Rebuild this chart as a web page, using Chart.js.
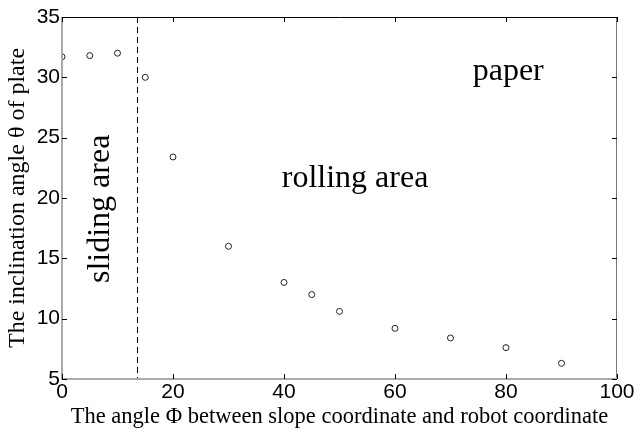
<!DOCTYPE html>
<html>
<head>
<meta charset="utf-8">
<script src="https://cdn.jsdelivr.net/npm/chart.js@4/dist/chart.umd.min.js"></script>
<style>
  html, body { margin: 0; padding: 0; background: #fff; }
  #wrap { width: 636px; height: 432px; }
</style>
</head>
<body>
<div id="wrap"><canvas id="c" width="636" height="432"></canvas></div>
<script>
// ---- data ----
const phiValues   = [0, 5, 10, 15, 20, 30, 40, 45, 50, 60, 70, 80, 90];
const thetaValues = [31.7, 31.8, 32.0, 30.0, 23.4, 16.0, 13.0, 12.0, 10.6, 9.2, 8.4, 7.6, 6.3];
const boundaryPhi = 13.5;
const xTickValues = [0, 20, 40, 60, 80, 100];
const yTickValues = [5, 10, 15, 20, 25, 30, 35];
const xTitle = 'The angle \u03A6 between slope coordinate and robot coordinate';
const yTitle = 'The inclination angle \u03B8 of plate';

const points = phiValues.map((x, i) => ({ x: x, y: thetaValues[i] }));

const framePlugin = {
  id: 'frame',
  afterDatasetsDraw(chart) {
    const { ctx, chartArea: a, scales: { x, y } } = chart;
    ctx.save();
    // dashed boundary
    ctx.strokeStyle = '#000';
    ctx.lineWidth = 1;
    ctx.setLineDash([6, 4]);
    const bx = Math.round(x.getPixelForValue(boundaryPhi)) + 0.5;
    ctx.beginPath();
    ctx.moveTo(bx, a.top);
    ctx.lineTo(bx, a.bottom);
    ctx.stroke();
    ctx.setLineDash([]);
    // box
    ctx.lineWidth = 1;
    ctx.strokeStyle = '#000';
    ctx.beginPath();
    ctx.moveTo(a.left, a.top + 0.5); ctx.lineTo(a.right, a.top + 0.5);
    ctx.stroke();
    ctx.strokeStyle = '#777';
    ctx.beginPath();
    ctx.moveTo(a.right - 0.5, a.top); ctx.lineTo(a.right - 0.5, a.bottom);
    ctx.stroke();
    ctx.strokeStyle = '#aaa';
    ctx.lineWidth = 2;
    ctx.beginPath();
    ctx.moveTo(a.left, a.top); ctx.lineTo(a.left, a.bottom);
    ctx.lineTo(a.right, a.bottom);
    ctx.stroke();
    // inward ticks
    ctx.lineWidth = 1;
    ctx.strokeStyle = '#000';
    const tl = 5;
    xTickValues.forEach(v => {
      const px = Math.round(x.getPixelForValue(v)) + 0.5;
      ctx.beginPath();
      ctx.moveTo(px, a.bottom); ctx.lineTo(px, a.bottom - tl);
      ctx.moveTo(px, a.top); ctx.lineTo(px, a.top + tl);
      ctx.stroke();
    });
    yTickValues.forEach(v => {
      const py = Math.round(y.getPixelForValue(v)) + 0.5;
      ctx.beginPath();
      ctx.moveTo(a.left, py); ctx.lineTo(a.left + tl, py);
      ctx.moveTo(a.right, py); ctx.lineTo(a.right - tl, py);
      ctx.stroke();
    });
    // annotations
    ctx.fillStyle = '#000';
    ctx.font = '32px "Liberation Serif"';
    ctx.textBaseline = 'alphabetic';
    ctx.textAlign = 'left';
    ctx.fillText('paper', x.getPixelForValue(74), y.getPixelForValue(29.8));
    ctx.fillText('rolling area', x.getPixelForValue(39.6), y.getPixelForValue(20.9));
    ctx.save();
    ctx.translate(x.getPixelForValue(8.5), y.getPixelForValue(19.1));
    ctx.rotate(-Math.PI / 2);
    ctx.textAlign = 'center';
    ctx.fillText('sliding area', 0, 0);
    ctx.restore();
    ctx.restore();
  }
};

new Chart(document.getElementById('c'), {
  type: 'scatter',
  data: {
    datasets: [{
      data: points,
      pointStyle: 'circle',
      pointRadius: 3,
      pointHoverRadius: 3,
      borderColor: '#222',
      backgroundColor: 'rgba(255,255,255,0)',
      borderWidth: 1
    }]
  },
  options: {
    responsive: false,
    animation: false,
    events: [],
    layout: { padding: { top: 17, right: 19, left: 0, bottom: 0 } },
    plugins: { legend: { display: false }, tooltip: { enabled: false } },
    scales: {
      x: {
        type: 'linear',
        min: 0, max: 100,
        afterBuildTicks(s) { s.ticks = xTickValues.map(v => ({ value: v })); },
        afterFit(s) { s.height = 53; },
        grid: { display: false, drawTicks: false },
        border: { display: false },
        ticks: {
          color: '#000',
          font: { family: '"Liberation Sans"', size: 21 },
          padding: 1,
          maxRotation: 0
        },
        title: {
          display: true,
          text: xTitle,
          color: '#000',
          font: { family: '"Liberation Serif"', size: 22.5 },
          padding: { top: 0, bottom: 1 }
        }
      },
      y: {
        type: 'linear',
        min: 5, max: 35,
        afterBuildTicks(s) { s.ticks = yTickValues.map(v => ({ value: v })); },
        afterFit(s) { s.width = 62; },
        grid: { display: false, drawTicks: false },
        border: { display: false },
        ticks: {
          color: '#000',
          font: { family: '"Liberation Sans"', size: 21 },
          padding: 2
        },
        title: {
          display: true,
          text: yTitle,
          color: '#000',
          font: { family: '"Liberation Serif"', size: 24 },
          padding: { top: 3, bottom: 0 }
        }
      }
    }
  },
  plugins: [framePlugin]
});
</script>
</body>
</html>
